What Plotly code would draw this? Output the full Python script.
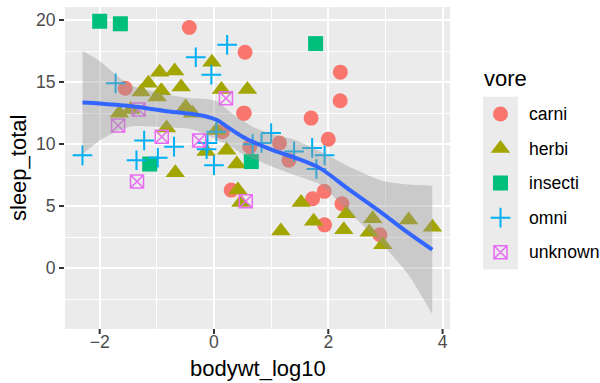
import numpy as np
import plotly.graph_objects as go

# ---------------- data (msleep) ----------------
vores = ["carni", "herbi", "insecti", "omni", "unknown"]

carni_bodywt = [50.0, 20.49, 14, 3.5, 3.3, 800, 85, 0.37, 1.4, 0.028, 162.564, 100,
                161.499, 86, 53.18, 173.33, 2, 3.38, 4.23]
carni_sleep = [12.1, 8.7, 10.1, 17.4, 12.5, 2.7, 6.2, 19.4, 11.0, 14.5, 15.8, 10.4,
               13.5, 3.5, 5.6, 5.2, 6.3, 12.5, 9.8]

herbi_bodywt = [1.35, 600, 3.85, 14.8, 33.5, 0.728, 0.42, 2.95, 2547, 521, 187, 0.071,
                900, 2.625, 1.67, 6654, 0.053, 0.12, 0.035, 0.022, 0.266, 0.21, 2.5,
                55.5, 1.1, 0.32, 0.148, 0.92, 0.101, 0.205, 0.112, 207.501]
herbi_sleep = [14.4, 4.0, 14.4, 3.0, 5.3, 9.4, 12.5, 5.3, 3.9, 2.9, 3.1, 14.9,
               1.9, 6.3, 9.5, 3.3, 14.2, 14.3, 12.8, 12.5, 14.6, 7.7, 8.4,
               3.8, 11.1, 13.0, 11.3, 16.6, 13.8, 15.9, 15.8, 4.4]

insecti_bodywt = [0.023, 0.01, 60, 0.075, 4.5]
insecti_sleep = [19.7, 19.9, 18.1, 8.4, 8.6]

omni_bodywt = [0.48, 0.019, 4.75, 0.06, 1.0, 0.005, 1.7, 0.77, 10, 0.2, 62, 6.8,
               52.2, 25.235, 1.1, 0.044, 0.743, 86.25, 0.9, 0.104]
omni_sleep = [17.0, 14.9, 10.0, 10.3, 8.3, 9.1, 18.0, 10.1, 10.9, 9.8, 8.0, 10.1,
              9.7, 9.4, 11.0, 8.7, 9.6, 9.1, 15.6, 8.9]

unknown_bodywt = [0.045, 0.55, 0.021, 1.62, 3.6, 0.122, 0.048]
unknown_sleep = [7.0, 10.3, 11.5, 13.7, 5.4, 10.6, 12.8]

# loess smooth
smooth_x = [-2.30, -2.00, -1.72, -1.44, -1.15, -0.86, -0.42, -0.15, 0.05, 0.28,
            0.50, 0.70, 1.04, 1.45, 1.86, 2.36, 2.94, 3.40, 3.82]
smooth_fit = [13.35, 13.27, 13.17, 13.05, 12.88, 12.68, 12.45, 12.25, 11.95, 11.25,
              10.6, 10.15, 9.5, 8.85, 8.05, 6.35, 4.45, 2.85, 1.5]
smooth_upper = [17.5, 16.7, 15.6, 14.7, 14.35, 14.05, 13.7, 13.65, 13.45, 12.6,
                11.9, 11.35, 10.8, 10.3, 9.4, 8.2, 7.05, 6.75, 6.65]
smooth_lower = [9.2, 10.3, 11.0, 11.45, 11.45, 11.35, 11.25, 10.8, 10.35, 9.85,
                9.2, 8.8, 8.15, 7.45, 6.75, 4.55, 1.95, -0.5, -3.7]

x_ticks = [-2, 0, 2, 4]
x_tick_labels = ["\u22122", "0", "2", "4"]
y_ticks = [0, 5, 10, 15, 20]

# ---------------- styling ----------------
FONT = "Liberation Sans, Arial, Helvetica, sans-serif"
colors = {"carni": "#F8766D", "herbi": "#A3A500", "insecti": "#00BF7D",
          "omni": "#00B0F6", "unknown": "#E76BF3"}
symbols = {"carni": "circle", "herbi": "triangle-up", "insecti": "square",
           "omni": "cross-thin-open", "unknown": "square-x-open"}
sizes = {"carni": 15, "herbi": 17, "insecti": 15, "omni": 14, "unknown": 13}
linew = {"carni": 0, "herbi": 0, "insecti": 0, "omni": 2, "unknown": 1.5}

series = {
    "carni": (carni_bodywt, carni_sleep),
    "herbi": (herbi_bodywt, herbi_sleep),
    "insecti": (insecti_bodywt, insecti_sleep),
    "omni": (omni_bodywt, omni_sleep),
    "unknown": (unknown_bodywt, unknown_sleep),
}

def marker(v):
    return dict(color=colors[v], symbol=symbols[v], size=sizes[v],
                line=dict(width=linew[v], color=colors[v]))

fig = go.Figure()

for v in vores:
    bw, sl = series[v]
    fig.add_trace(go.Scatter(x=np.log10(bw), y=sl, mode="markers", name=v,
                             marker=marker(v), showlegend=False,
                             xaxis="x", yaxis="y"))

# ribbon (drawn over the points, as in ggplot)
fig.add_trace(go.Scatter(x=smooth_x, y=smooth_lower, mode="lines",
                         line=dict(width=0, color="rgba(0,0,0,0)", shape="spline", smoothing=0.6),
                         showlegend=False, hoverinfo="skip"))
fig.add_trace(go.Scatter(x=smooth_x, y=smooth_upper, mode="lines",
                         line=dict(width=0, color="rgba(0,0,0,0)", shape="spline", smoothing=0.6),
                         fill="tonexty", fillcolor="rgba(153,153,153,0.4)",
                         showlegend=False, hoverinfo="skip"))
fig.add_trace(go.Scatter(x=smooth_x, y=smooth_fit, mode="lines",
                         line=dict(width=4, color="#3366FF", shape="spline", smoothing=0.8),
                         showlegend=False))

# manual legend keys on a small subplot
for i, v in enumerate(vores):
    fig.add_trace(go.Scatter(x=[0], y=[len(vores) - 1 - i], mode="markers",
                             marker=marker(v), showlegend=False,
                             xaxis="x2", yaxis="y2", hoverinfo="skip"))

W, H = 600, 383
L, R, T, B = 65, 0, 7, 54
pw, ph = W - L - R, H - T - B
px = lambda p: (p - L) / pw
py = lambda p: (H - B - p) / ph

key_top, key_h = 96.7, 34.56
leg_bottom = key_top + key_h * len(vores)

grid_common = dict(showgrid=True, gridcolor="white", gridwidth=2.1,
                   zeroline=False, showline=False,
                   tickfont=dict(family=FONT, size=17.6, color="#4D4D4D"))

fig.update_layout(
    width=W, height=H,
    margin=dict(l=L, r=R, t=T, b=B),
    paper_bgcolor="white", plot_bgcolor="#EBEBEB",
    font=dict(family=FONT),
    xaxis=dict(domain=[0, px(450)], range=[-2.607, 4.13], tickvals=x_ticks,
               ticktext=x_tick_labels, ticks="",
               minor=dict(dtick=1, tick0=-3, showgrid=True, gridcolor="white", gridwidth=1.05),
               **grid_common),
    yaxis=dict(domain=[0, 1], range=[-4.89, 21.05], tickvals=y_ticks,
               ticks="outside", ticklen=5, tickwidth=2, tickcolor="#333333",
               minor=dict(dtick=2.5, tick0=-2.5, showgrid=True, gridcolor="white", gridwidth=1.05),
               **grid_common),
    xaxis2=dict(domain=[px(483), px(518)], range=[-1, 1], visible=False,
                fixedrange=True, anchor="y2"),
    yaxis2=dict(domain=[py(leg_bottom), py(key_top)], range=[-0.5, len(vores) - 0.5],
                visible=False, fixedrange=True, anchor="x2"),
    showlegend=False,
)

# x tick marks drawn as short lines below the panel
shapes = []
for t in x_ticks:
    shapes.append(dict(type="line", xref="x", yref="paper", x0=t, x1=t,
                       y0=0, y1=-5.0 / ph, line=dict(color="#333333", width=2)))
fig.update_layout(shapes=shapes)

ann = []
ann.append(dict(text="bodywt_log10", x=px((65 + 450) / 2), y=py(368), xref="paper", yref="paper",
                xanchor="center", yanchor="middle", showarrow=False,
                font=dict(family=FONT, size=22, color="black")))
ann.append(dict(text="sleep_total", x=px(18), y=py(168), xref="paper", yref="paper",
                xanchor="center", yanchor="middle", showarrow=False, textangle=-90,
                font=dict(family=FONT, size=22, color="black")))
ann.append(dict(text="vore", x=px(482), y=py(78), xref="paper", yref="paper",
                xanchor="left", yanchor="middle", showarrow=False,
                font=dict(family=FONT, size=22, color="black")))
for i, v in enumerate(vores):
    cy = key_top + key_h * (i + 0.5)
    ann.append(dict(text=v, x=px(527), y=py(cy), xref="paper", yref="paper",
                    xanchor="left", yanchor="middle", showarrow=False,
                    font=dict(family=FONT, size=17.6, color="black")))
fig.update_layout(annotations=ann)

fig.write_html("out.html")
